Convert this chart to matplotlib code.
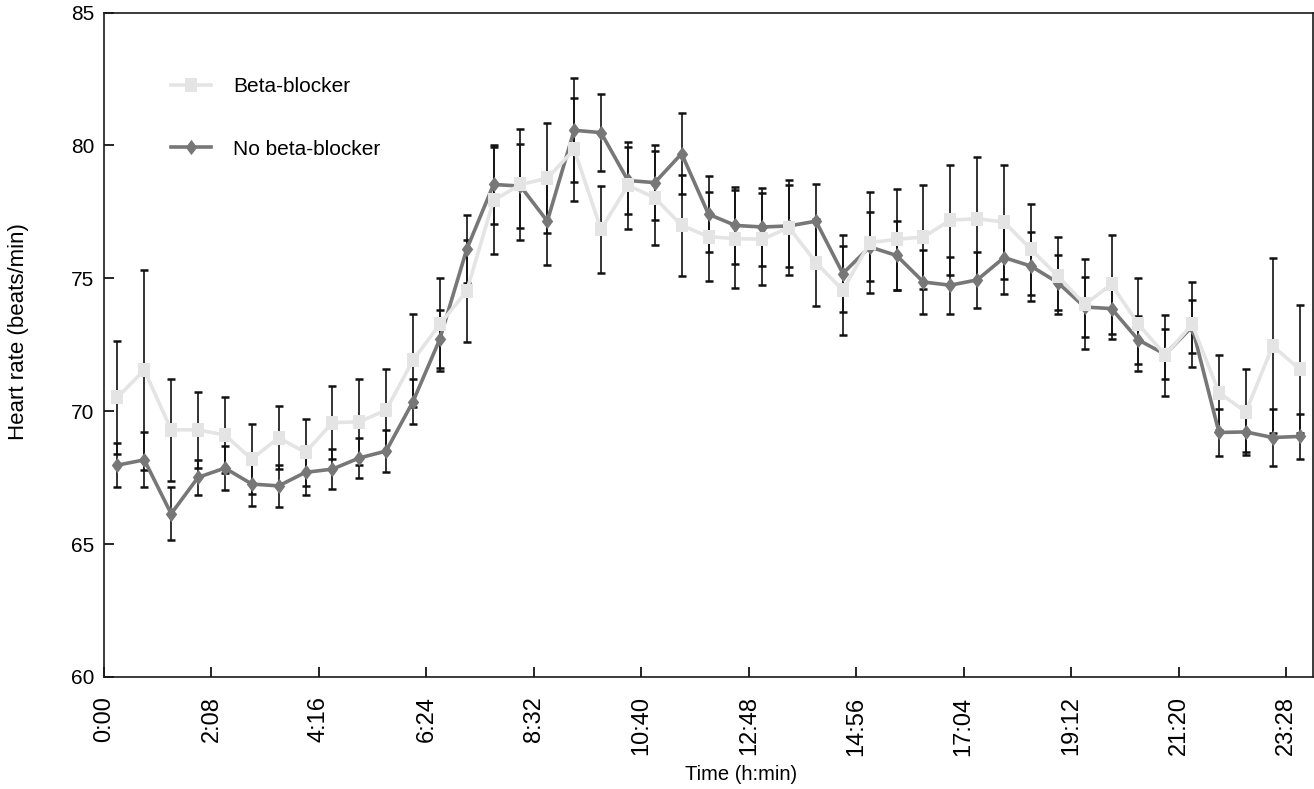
import numpy as np
import matplotlib
matplotlib.use('Agg')
import matplotlib.pyplot as plt

plt.rcParams['font.family'] = ['Liberation Sans', 'DejaVu Sans']

# Sample times (minutes after midnight), one every 32 min, centred in each bin
minutes = np.arange(16, 1440, 32)

beta_mean = [70.52, 71.55, 69.30, 69.30, 69.10, 68.20, 69.00, 68.45, 69.57, 69.60,
             70.04, 71.92, 73.27, 74.52, 77.93, 78.53, 78.76, 79.85, 76.84, 78.50,
             78.03, 76.99, 76.57, 76.49, 76.47, 76.91, 75.59, 74.55, 76.34, 76.47,
             76.55, 77.19, 77.24, 77.12, 76.09, 75.09, 74.02, 74.77, 73.27, 72.11,
             73.27, 70.70, 69.97, 72.46, 71.58]
beta_err = [2.12, 3.75, 1.93, 1.43, 1.44, 1.30, 1.18, 1.25, 1.38, 1.63,
            1.56, 1.75, 1.76, 1.92, 2.00, 2.10, 2.07, 1.94, 1.65, 1.63,
            1.77, 1.90, 1.67, 1.84, 1.74, 1.78, 1.63, 1.68, 1.91, 1.90,
            1.95, 2.06, 2.31, 2.13, 1.70, 1.45, 1.69, 1.85, 1.76, 1.52,
            1.59, 1.41, 1.63, 3.29, 2.40]

nobeta_mean = [67.97, 68.17, 66.14, 67.51, 67.86, 67.26, 67.19, 67.70, 67.82, 68.24,
               68.50, 70.36, 72.71, 76.09, 78.53, 78.47, 77.15, 80.57, 80.48, 78.68,
               78.60, 79.69, 77.41, 76.99, 76.93, 76.97, 77.15, 75.18, 76.18, 75.86,
               74.86, 74.74, 74.94, 75.78, 75.46, 74.84, 73.92, 73.86, 72.68, 72.14,
               73.18, 69.20, 69.22, 69.01, 69.05]
nobeta_err = [0.82, 1.04, 0.99, 0.67, 0.84, 0.83, 0.79, 0.87, 0.76, 0.77,
              0.78, 0.85, 1.10, 1.28, 1.47, 1.57, 1.66, 1.95, 1.45, 1.25,
              1.42, 1.53, 1.43, 1.46, 1.46, 1.53, 1.41, 1.44, 1.30, 1.30,
              1.21, 1.07, 1.04, 1.38, 1.30, 1.05, 1.12, 1.13, 0.91, 0.94,
              1.00, 0.88, 0.75, 1.07, 0.86]

tick_minutes = [0, 128, 256, 384, 512, 640, 768, 896, 1024, 1152, 1280, 1408]
tick_labels = ['0:00', '2:08', '4:16', '6:24', '8:32', '10:40',
               '12:48', '14:56', '17:04', '19:12', '21:20', '23:28']

# slightly tall markers, like the stretched original
square = [(-0.78, -1), (0.78, -1), (0.78, 1), (-0.78, 1), (-0.78, -1)]
diamond = [(0, 1), (0.75, 0), (0, -1), (-0.75, 0), (0, 1)]

fig = plt.figure(figsize=(13.14, 7.89), dpi=100)
ax = fig.add_axes([104 / 1314, 1 - 677 / 789, 1209 / 1314, 664.5 / 789])

err_kw = dict(fmt='none', ecolor='#111111', elinewidth=1.2, capsize=2.8, capthick=1.8, zorder=1)
ax.errorbar(minutes, nobeta_mean, yerr=nobeta_err, **err_kw)
ax.errorbar(minutes, beta_mean, yerr=beta_err, **err_kw)

nb_line, = ax.plot(minutes, nobeta_mean, color='#777777', lw=2.6, marker=diamond,
                   markersize=11, markeredgewidth=0, zorder=2, label='No beta-blocker')
b_line, = ax.plot(minutes, beta_mean, color='#e4e4e4', lw=2.6, marker=square,
                  markersize=10.5, markeredgewidth=0, zorder=3, label='Beta-blocker')

ax.set_xlim(0, 1440)
ax.set_ylim(60, 85)
ax.set_xticks(tick_minutes)
ax.set_xticklabels(tick_labels, rotation=90, fontsize=17)
ax.set_yticks([60, 65, 70, 75, 80, 85])
ax.tick_params(axis='y', labelsize=15, direction='in', length=7, width=1.2, pad=7)
ax.tick_params(axis='x', direction='in', length=7, width=1.2, pad=14)

for sp in ax.spines.values():
    sp.set_linewidth(1.2)
    sp.set_color('#1a1a1a')

ax.set_xlabel('Time (h:min)', fontsize=14.5)
ax.xaxis.set_label_coords(0.527, -0.132)
ax.set_ylabel('Heart rate (beats/min)', fontsize=16)
ax.yaxis.set_label_coords(-0.062, 0.52)

ax.legend(handles=[b_line, nb_line], loc='upper left', bbox_to_anchor=(0.0552, 0.903),
          frameon=False, fontsize=15, borderpad=0, borderaxespad=0,
          handlelength=1.92, handletextpad=1.07, labelspacing=2.1)

fig.savefig('out.png', dpi=100)
